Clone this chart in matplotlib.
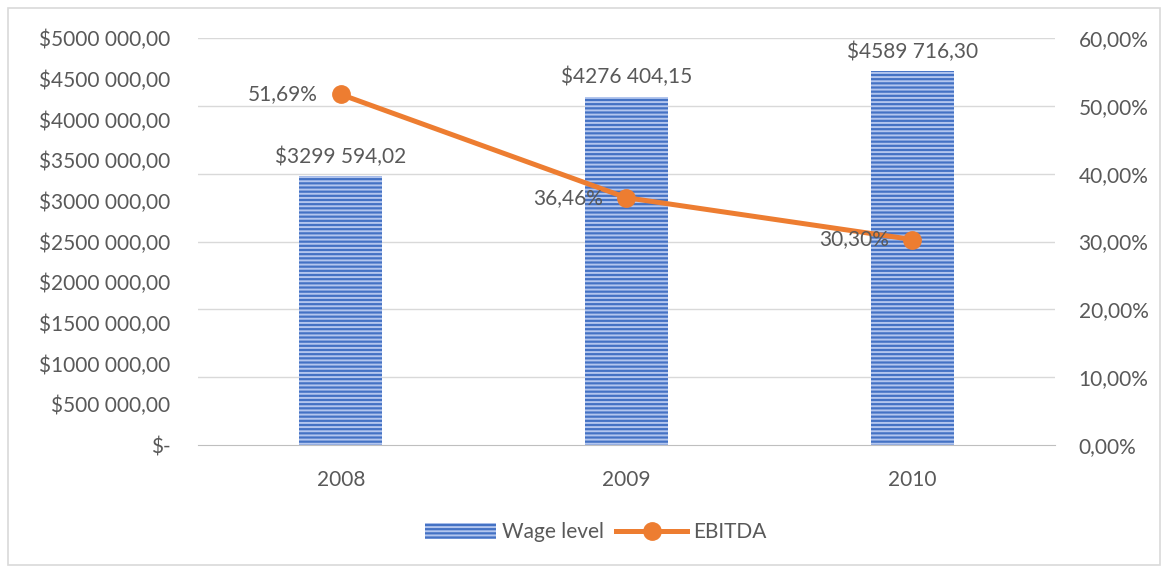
import matplotlib
matplotlib.use("Agg")
import matplotlib.pyplot as plt
from matplotlib.patches import Patch, Rectangle
from matplotlib.lines import Line2D
from matplotlib.ticker import FuncFormatter, MultipleLocator

# === DATA ===
years = ["2008", "2009", "2010"]
wage_level = [3299594.02, 4276404.15, 4589716.30]
ebitda = [51.69, 36.46, 30.30]

text_color = "#595959"
bar_color = "#4472c4"
stripe_color = "#b3c6ee"
line_color = "#ed7d31"
grid_color = "#d9d9d9"

plt.rcParams["font.family"] = ["Lato", "DejaVu Sans"]
plt.rcParams["hatch.linewidth"] = 1.4
fs = 15


def money(v):
    if v == 0:
        return "$-"
    cents = int(round(v * 100))
    whole, frac = divmod(cents, 100)
    thousands, rest = divmod(whole, 1000)
    if thousands:
        return f"${thousands} {rest:03d},{frac:02d}"
    return f"${rest},{frac:02d}"


def pct(v):
    return f"{v:.2f}%".replace(".", ",")


fig = plt.figure(figsize=(11.66, 5.68), dpi=100)
ax = fig.add_axes([0.1698, 0.2165, 0.735, 0.7165])
ax2 = ax.twinx()

x = list(range(len(years)))

# === GRID (follows the right axis ticks) ===
for g in range(10, 70, 10):
    ax.axhline(g / 60 * 5000000, color=grid_color, linewidth=1, zorder=0)

# === BARS ===
ax.bar(x, wage_level, width=0.29, color=bar_color, edgecolor=stripe_color,
       linewidth=0, hatch="----", zorder=2)
ax.set_ylim(0, 5000000)
ax.set_xlim(-0.5, 2.5)
ax.yaxis.set_major_locator(MultipleLocator(500000))
ax.yaxis.set_major_formatter(FuncFormatter(lambda v, p: money(v)))
ax.set_xticks(x)
ax.set_xticklabels(years)

for xi, v in zip(x, wage_level):
    ax.annotate(money(v), (xi, v), xytext=(0, 7), textcoords="offset points",
                ha="center", va="bottom", fontsize=fs, color=text_color)

# === LINE (secondary axis) ===
ax2.plot(x, ebitda, color=line_color, linewidth=3.6, marker="o",
         markersize=12.5, zorder=3)
ax2.set_ylim(0, 60)
ax2.yaxis.set_major_locator(MultipleLocator(10))
ax2.yaxis.set_major_formatter(FuncFormatter(lambda v, p: pct(v)))

for xi, v in zip(x, ebitda):
    ax2.annotate(pct(v), (xi, v), xytext=(-17, 0), textcoords="offset points",
                 ha="right", va="center", fontsize=fs, color=text_color)

for a in (ax, ax2):
    for s in a.spines.values():
        s.set_visible(False)
    a.tick_params(length=0, labelsize=fs, colors=text_color)
ax.spines["bottom"].set_visible(True)
ax.spines["bottom"].set_color("#bfbfbf")
ax.tick_params(axis="y", pad=20)
ax.tick_params(axis="x", pad=18)
ax2.tick_params(axis="y", pad=17)

# === LEGEND ===
handles = [
    Patch(facecolor=bar_color, edgecolor=stripe_color, linewidth=0, hatch="----"),
    Line2D([0], [0], color=line_color, linewidth=3.6, marker="o", markersize=12.5),
]
fig.legend(handles, ["Wage level", "EBITDA"], loc="center",
           bbox_to_anchor=(0.511, 0.063), ncol=2, frameon=False,
           fontsize=fs, labelcolor=text_color, handlelength=3.4,
           handleheight=0.75, columnspacing=0.6, handletextpad=0.3)

# outer frame
fig.patches.append(Rectangle((0.007, 0.005), 0.988, 0.981, transform=fig.transFigure,
                             fill=False, edgecolor="#d9d9d9", linewidth=1.2))

fig.savefig("out.png", dpi=100)
